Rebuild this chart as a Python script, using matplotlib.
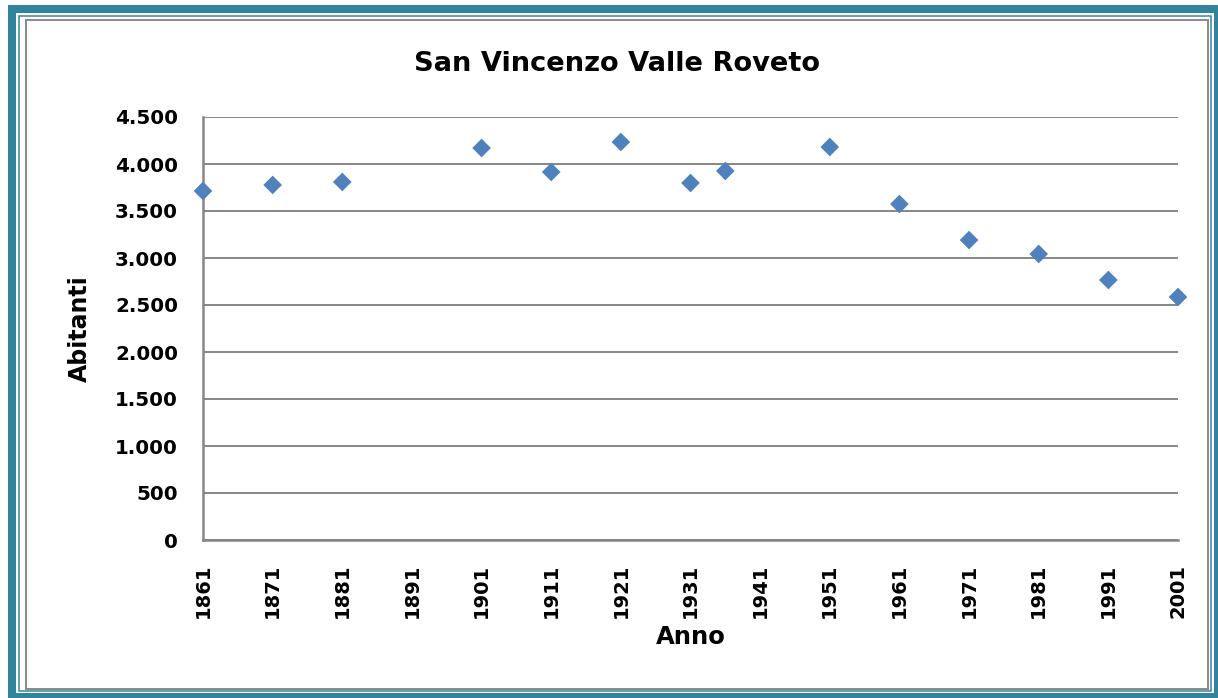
import matplotlib
matplotlib.use("Agg")
import matplotlib.pyplot as plt
from matplotlib.patches import Rectangle

years = [1861, 1871, 1881, 1901, 1911, 1921, 1931, 1936, 1951, 1961, 1971, 1981, 1991, 2001]
population = [3713, 3777, 3809, 4170, 3915, 4234, 3798, 3926, 4181, 3574, 3191, 3043, 2766, 2585]
x_ticks = list(range(1861, 2002, 10))
y_ticks = [0, 500, 1000, 1500, 2000, 2500, 3000, 3500, 4000, 4500]
y_tick_labels = ["0", "500", "1.000", "1.500", "2.000", "2.500", "3.000", "3.500", "4.000", "4.500"]
title = "San Vincenzo Valle Roveto"
x_label = "Anno"
y_label = "Abitanti"

W, H = 1218, 698
fig = plt.figure(figsize=(W / 100, H / 100), dpi=100)

# frame drawn in pixel coordinates
bg = fig.add_axes([0, 0, 1, 1], zorder=-1)
bg.set_xlim(0, W)
bg.set_ylim(H, 0)
bg.axis("off")
teal = "#31849B"
bg.add_patch(Rectangle((12, 9), 1205.5, 688, fill=False, edgecolor=teal, linewidth=8 * 0.72))
bg.add_patch(Rectangle((19, 15.8), 1210.5 - 19, 691.3 - 15.8, fill=False, edgecolor=teal, linewidth=1.5 * 0.72))
bg.add_patch(Rectangle((26, 20), 1207.5 - 26, 688.5 - 20, fill=False, edgecolor="#8C8C8C", linewidth=2 * 0.72))

left, right, top, bottom = 203, 1178, 117, 540
ax = fig.add_axes([left / W, (H - bottom) / H, (right - left) / W, (bottom - top) / H])
ax.scatter(years, population, marker="D", s=9.5 ** 2, color="#4F81BD", edgecolors="none", zorder=3, clip_on=False)
ax.set_xlim(1861, 2001)
ax.set_ylim(0, 4500)
ax.set_xticks(x_ticks)
ax.set_xticklabels([str(t) for t in x_ticks], rotation=90, fontsize=14, fontweight="bold", family="DejaVu Sans")
ax.set_yticks(y_ticks)
ax.set_yticklabels(y_tick_labels, fontsize=14.3, fontweight="bold", family="DejaVu Sans")
ax.tick_params(axis="x", length=0, pad=17)
ax.tick_params(axis="y", length=0, pad=18)
ax.grid(axis="y", color="#868686", linewidth=1.4)
ax.set_axisbelow(True)
for s in ["top", "right"]:
    ax.spines[s].set_visible(False)
for s in ["left", "bottom"]:
    ax.spines[s].set_color("#868686")
    ax.spines[s].set_linewidth(1.8)

fig.text(617 / W, 1 - 64 / H, title, ha="center", va="center", fontsize=19.6, fontweight="bold", family="DejaVu Sans")
fig.text(691 / W, 1 - 637 / H, x_label, ha="center", va="center", fontsize=17.5, fontweight="bold", family="DejaVu Sans")
fig.text(80 / W, 1 - 329 / H, y_label, ha="center", va="center", rotation=90, fontsize=17, fontweight="bold", family="DejaVu Sans")

fig.savefig("out.png", dpi=100)
